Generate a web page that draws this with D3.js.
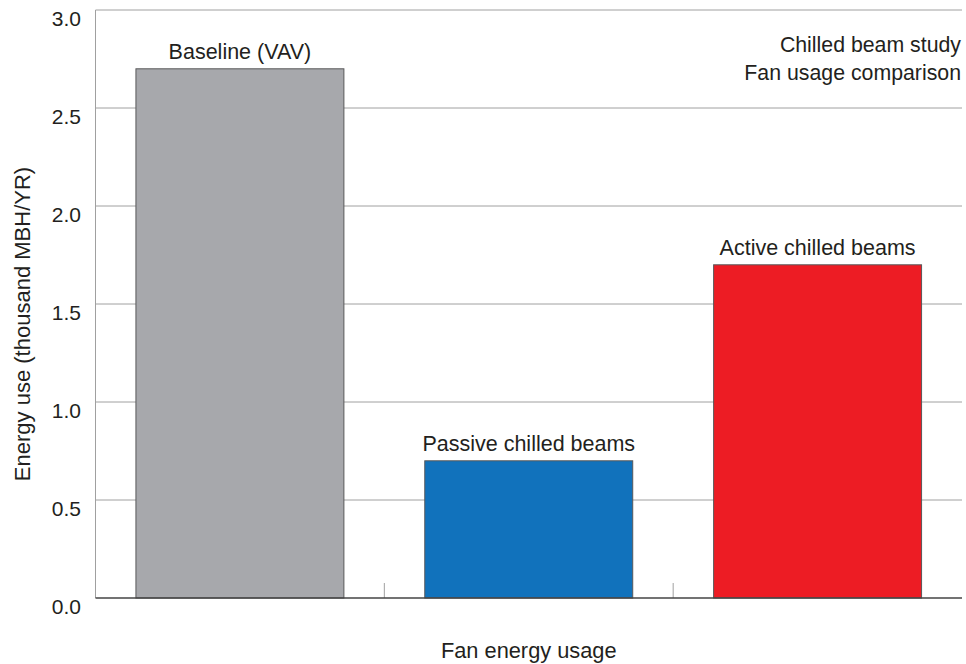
<!DOCTYPE html>
<html>
<head>
<meta charset="utf-8">
<script src="https://cdn.jsdelivr.net/npm/d3@7/dist/d3.min.js"></script>
<style>
  html, body { margin: 0; padding: 0; background: #fff; }
  svg text { font-family: "Liberation Sans", Arial, sans-serif; fill: #231f20; }
</style>
</head>
<body>
<svg id="chart" width="966" height="664"></svg>
<script>
// Fan energy use by system type
const categories = ["Baseline (VAV)", "Passive chilled beams", "Active chilled beams"];
const values = [2.7, 0.7, 1.7];
const barColors = ["#a7a8ac", "#1172bc", "#ed1c24"];
const yTicks = [0, 0.5, 1.0, 1.5, 2.0, 2.5, 3.0];
const noteLines = ["Chilled beam study", "Fan usage comparison"];
const yTitle = "Energy use (thousand MBH/YR)";
const xTitle = "Fan energy usage";

const svg = d3.select("#chart");
const margin = { left: 95.5, right: 4, top: 10, bottom: 66 };
const W = 966, H = 664;

const x = d3.scaleBand()
  .domain(categories)
  .range([margin.left, W - margin.right])
  .paddingInner(0.28)
  .paddingOuter(0.14);

const y = d3.scaleLinear()
  .domain([0, 3.0])
  .range([H - margin.bottom, margin.top]);

// Horizontal gridlines
svg.append("g")
  .selectAll("line")
  .data(yTicks.filter(d => d > 0))
  .join("line")
  .attr("x1", margin.left).attr("x2", W - margin.right)
  .attr("y1", d => y(d)).attr("y2", d => y(d))
  .attr("stroke", "#a0a0a0").attr("stroke-width", 1);

// Left axis line
svg.append("line")
  .attr("x1", margin.left).attr("x2", margin.left)
  .attr("y1", y(3.0)).attr("y2", y(0))
  .attr("stroke", "#a0a0a0").attr("stroke-width", 1);

// Category separators on the baseline
const step = x.step();
svg.append("g")
  .selectAll("line")
  .data(categories.slice(1))
  .join("line")
  .attr("x1", d => x(d) - step * x.paddingInner() / 2)
  .attr("x2", d => x(d) - step * x.paddingInner() / 2)
  .attr("y1", y(0) - 15).attr("y2", y(0))
  .attr("stroke", "#a0a0a0").attr("stroke-width", 1);

// Bars
svg.append("g")
  .selectAll("rect")
  .data(categories)
  .join("rect")
  .attr("x", d => x(d))
  .attr("width", x.bandwidth())
  .attr("y", (d, i) => y(values[i]))
  .attr("height", (d, i) => y(0) - y(values[i]))
  .attr("fill", (d, i) => barColors[i])
  .attr("stroke", "#58585a").attr("stroke-width", 1);

// Baseline axis
svg.append("line")
  .attr("x1", margin.left).attr("x2", W - margin.right)
  .attr("y1", y(0)).attr("y2", y(0))
  .attr("stroke", "#454545").attr("stroke-width", 1.5);

// Bar labels
svg.append("g")
  .selectAll("text")
  .data(categories)
  .join("text")
  .attr("x", d => x(d) + x.bandwidth() / 2)
  .attr("y", (d, i) => y(values[i]) - 10)
  .attr("text-anchor", "middle")
  .attr("font-size", 21.5)
  .text(d => d);

// Y tick labels
svg.append("g")
  .selectAll("text")
  .data(yTicks)
  .join("text")
  .attr("x", 81)
  .attr("y", d => y(d) + 15.5)
  .attr("text-anchor", "end")
  .attr("font-size", 21)
  .text(d => d3.format(".1f")(d));

// Note in the top-right corner
svg.append("g")
  .selectAll("text")
  .data(noteLines)
  .join("text")
  .attr("x", 961)
  .attr("y", (d, i) => 52 + i * 27.5)
  .attr("text-anchor", "end")
  .attr("font-size", 21.3)
  .text(d => d);

// Axis titles
svg.append("text")
  .attr("transform", `translate(30, 324) rotate(-90)`)
  .attr("text-anchor", "middle")
  .attr("font-size", 22)
  .text(yTitle);

svg.append("text")
  .attr("x", (margin.left + W - margin.right) / 2)
  .attr("y", 658)
  .attr("text-anchor", "middle")
  .attr("font-size", 21.8)
  .text(xTitle);
</script>
</body>
</html>
